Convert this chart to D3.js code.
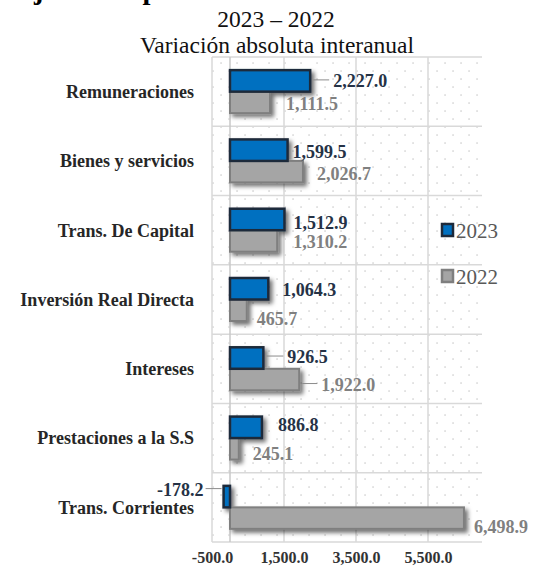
<!DOCTYPE html>
<html>
<head>
<meta charset="utf-8">
<script src="https://cdn.jsdelivr.net/npm/d3@7"></script>
<style>
  body { margin: 0; background: #fff; }
  text { font-family: "Liberation Serif", "Times New Roman", serif; }
</style>
</head>
<body>
<svg id="chart"></svg>
<script>
var width = 534;
var height = 569;

// data
var categories = ["Remuneraciones", "Bienes y servicios", "Trans. De Capital",
  "Inversión Real Directa", "Intereses", "Prestaciones a la S.S", "Trans. Corrientes"];
var values2023 = [2227.0, 1599.5, 1512.9, 1064.3, 926.5, 886.8, -178.2];
var values2022 = [1111.5, 2026.7, 1310.2, 465.7, 1922.0, 245.1, 6498.9];
var seriesNames = ["2023", "2022"];
var tickValues = [-500, 1500, 3500, 5500];

// manual label nudges (dx from bar end, dy from bar middle), like excel
var nudge2023 = [[23, 0], [5, 2], [9, 3], [14, 1], [24, -1], [16, -3], [-20, -7]];
var nudge2022 = [[16, 1], [14, 2], [16, 1], [10, 8], [22, 5], [14, 5], [10, 9]];

var blue = "#0070C0", blueEdge = "#1E2A3A";
var gray = "#A5A5A5", grayEdge = "#7F7F7F";
var fmt = d3.formatLocale({ decimal: ".", thousands: ",", grouping: [3], currency: ["", ""], minus: "-" }).format(",.1f");

var svg = d3.select("#chart")
    .attr("width", width)
    .attr("height", height);

var defs = svg.append("defs");
var pat = defs.append("pattern")
    .attr("id", "dots")
    .attr("patternUnits", "userSpaceOnUse")
    .attr("width", 16).attr("height", 16);
pat.append("rect").attr("x", 4.4).attr("y", 6.4).attr("width", 1.3).attr("height", 1.3).attr("fill", "#C4C4C4");
pat.append("rect").attr("x", 12.4).attr("y", 14.4).attr("width", 1.3).attr("height", 1.3).attr("fill", "#C4C4C4");

var shadow = defs.append("filter").attr("id", "shadow")
    .attr("x", "-20%").attr("y", "-30%").attr("width", "160%").attr("height", "190%");
shadow.append("feDropShadow")
    .attr("dx", 3).attr("dy", 3).attr("stdDeviation", 2.2)
    .attr("flood-color", "#000").attr("flood-opacity", 0.55);

// heading cut off at the very top, as in the source
svg.append("text")
    .attr("x", 15).attr("y", -1)
    .style("font-size", "28.5px").style("font-weight", "bold")
    .text("Ejecución por rubro");

svg.append("text")
    .attr("x", 276).attr("y", 27)
    .attr("text-anchor", "middle")
    .style("font-size", "23.5px").style("fill", "#111")
    .text("2023 – 2022");
svg.append("text")
    .attr("x", 277).attr("y", 53)
    .attr("text-anchor", "middle")
    .style("font-size", "23.5px").style("fill", "#111")
    .text("Variación absoluta interanual");

var plot = { left: 212, right: 482, top: 57, bottom: 542 };

var x = d3.scaleLinear().domain([-500, 7000]).range([plot.left, plot.right]);
var y = d3.scaleBand().domain(categories).range([plot.top, plot.bottom]);
var barH = 21.5;

// plot area dots
svg.append("rect")
    .attr("x", plot.left).attr("y", plot.top)
    .attr("width", plot.right - plot.left).attr("height", plot.bottom - plot.top)
    .attr("fill", "url(#dots)");

// grid
var bounds = categories.map(function(c) { return y(c); }).concat([plot.bottom]);
svg.append("g").selectAll("line").data(bounds).join("line")
    .attr("x1", plot.left).attr("x2", plot.right)
    .attr("y1", function(d) { return d; }).attr("y2", function(d) { return d; })
    .attr("stroke", "#D9D9D9").attr("stroke-width", 1.5);
svg.append("g").selectAll("line").data(tickValues).join("line")
    .attr("x1", function(d) { return x(d); }).attr("x2", function(d) { return x(d); })
    .attr("y1", plot.top).attr("y2", plot.bottom)
    .attr("stroke", "#D9D9D9").attr("stroke-width", 1.5);
svg.append("line")
    .attr("x1", x(0)).attr("x2", x(0))
    .attr("y1", plot.top).attr("y2", plot.bottom)
    .attr("stroke", "#C8C8C8").attr("stroke-width", 1.5);

// axis labels
var xAxis = d3.axisBottom(x).tickValues(tickValues).tickFormat(fmt).tickSize(0);
var ax = svg.append("g")
    .attr("transform", "translate(0," + plot.bottom + ")")
    .call(xAxis);
ax.select(".domain").remove();
ax.selectAll("text")
    .attr("y", 21).attr("dy", 0)
    .style("font-family", "Liberation Serif")
    .style("font-size", "16px").style("font-weight", "bold")
    .style("fill", "#333");

// category labels
svg.append("g").selectAll("text").data(categories).join("text")
    .attr("x", 194)
    .attr("y", function(d) { return y(d) + y.bandwidth() / 2; })
    .attr("dy", "0.35em")
    .attr("text-anchor", "end")
    .style("font-size", "18px").style("font-weight", "bold")
    .style("fill", "#262626")
    .text(function(d) { return d; });

function mid(i) { return y(categories[i]) + y.bandwidth() / 2; }

// bars
var bars = svg.append("g").attr("filter", "url(#shadow)");
bars.selectAll(".b22").data(values2022).join("rect")
    .attr("class", "b22")
    .attr("x", function(d) { return x(Math.min(0, d)); })
    .attr("y", function(d, i) { return mid(i); })
    .attr("width", function(d) { return Math.abs(x(d) - x(0)); })
    .attr("height", barH)
    .attr("fill", gray).attr("stroke", grayEdge).attr("stroke-width", 2);
bars.selectAll(".b23").data(values2023).join("rect")
    .attr("class", "b23")
    .attr("x", function(d) { return x(Math.min(0, d)); })
    .attr("y", function(d, i) { return mid(i) - barH; })
    .attr("width", function(d) { return Math.abs(x(d) - x(0)); })
    .attr("height", barH)
    .attr("fill", blue).attr("stroke", blueEdge).attr("stroke-width", 2.5);

// value labels with leader lines
function labels(vals, nudge, off, color) {
  var g = svg.append("g");
  vals.forEach(function(v, i) {
    var end = x(v), cy = mid(i) + off;
    var lx = end + nudge[i][0], ly = cy + nudge[i][1];
    if (Math.abs(nudge[i][0]) > 18) {
      var a = v < 0 ? lx + 2 : end + 3;
      var b = v < 0 ? end - 2 : lx - 4;
      g.append("line")
        .attr("x1", a).attr("x2", b).attr("y1", ly - 1).attr("y2", ly - 1)
        .attr("stroke", "#8C8C8C").attr("stroke-width", 1);
    }
    g.append("text")
      .attr("x", lx).attr("y", ly).attr("dy", "0.35em")
      .attr("text-anchor", v < 0 ? "end" : "start")
      .style("font-size", "18px").style("font-weight", "bold")
      .style("fill", color)
      .text(fmt(v));
  });
}
labels(values2023, nudge2023, -barH / 2, "#253246");
labels(values2022, nudge2022, barH / 2, "#808080");

// legend
var leg = svg.append("g");
[[blue, blueEdge, 224, 238], [gray, grayEdge, 270, 284]].forEach(function(s, i) {
  leg.append("rect")
    .attr("x", 442).attr("y", s[2]).attr("width", 11).attr("height", 12)
    .attr("fill", s[0]).attr("stroke", s[1]).attr("stroke-width", 2.5);
  leg.append("text")
    .attr("x", 456).attr("y", s[3])
    .style("font-size", "21px").style("fill", "#595959")
    .text(seriesNames[i]);
});
</script>
</body>
</html>
